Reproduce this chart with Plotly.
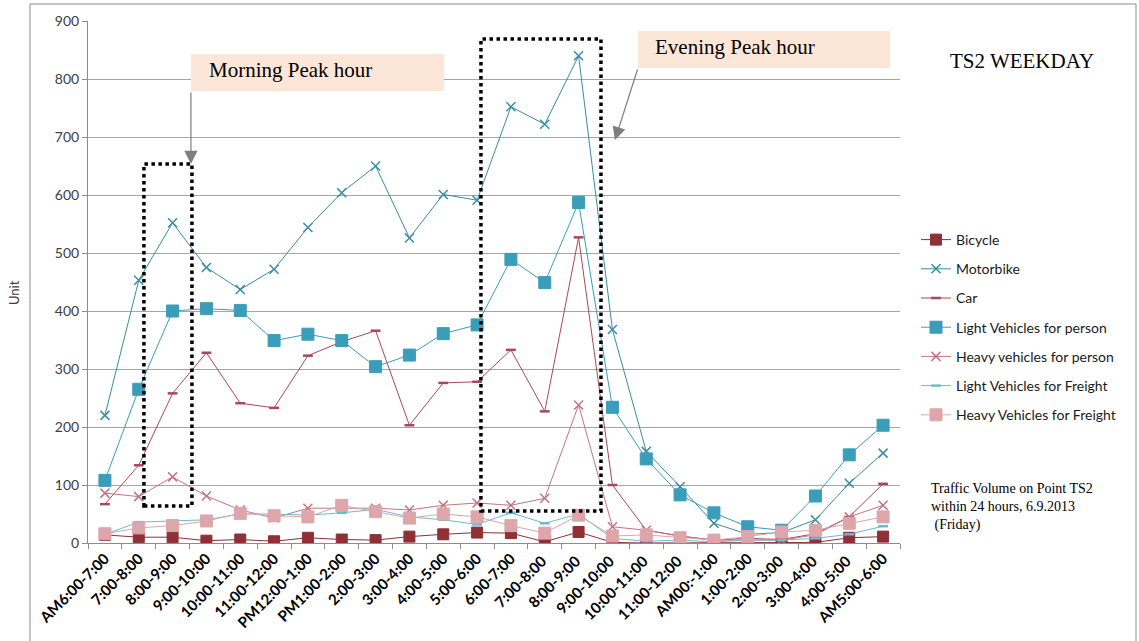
import plotly.graph_objects as go

categories = ["AM6:00-7:00", "7:00-8:00", "8:00-9:00", "9:00-10:00", "10:00-11:00",
              "11:00-12:00", "PM12:00-1:00", "PM1:00-2:00", "2:00-3:00", "3:00-4:00",
              "4:00-5:00", "5:00-6:00", "6:00-7:00", "7:00-8:00 ", "8:00-9:00 ",
              "9:00-10:00 ", "10:00-11:00 ", "11:00-12:00 ", "AM00:-1:00", "1:00-2:00",
              "2:00-3:00 ", "3:00-4:00 ", "4:00-5:00 ", "AM5:00-6:00"]

bicycle = [14, 10, 10, 4, 6, 3, 9, 6, 5, 11, 15, 18, 17, 2, 19, 1, 0, 0, 0, 1, 1, 1, 9, 11]
motorbike = [220, 453, 552, 475, 437, 472, 544, 604, 650, 526, 601, 591,
             752, 722, 840, 368, 158, 97, 34, 15, 18, 40, 103, 155]
car = [67, 134, 258, 328, 241, 233, 323, 347, 366, 203, 276, 278,
       333, 227, 527, 100, 22, 12, 5, 8, 6, 16, 45, 102]
light_person = [108, 265, 400, 404, 401, 349, 360, 349, 304, 324, 361, 376,
                489, 449, 587, 234, 145, 83, 52, 28, 22, 81, 152, 203]
heavy_person = [86, 80, 114, 81, 57, 43, 60, 60, 60, 57, 65, 69,
                65, 77, 238, 28, 22, 12, 5, 5, 5, 14, 45, 65]
light_freight = [15, 36, 38, 40, 50, 50, 48, 52, 58, 45, 40, 32,
                 52, 34, 50, 8, 3, 5, 2, 5, 5, 8, 15, 29]
heavy_freight = [16, 26, 30, 38, 51, 47, 45, 65, 54, 43, 50, 45,
                 30, 17, 48, 12, 14, 9, 5, 11, 19, 22, 34, 45]

series = [
    ("Bicycle", bicycle, "#8E3036", "square", 11, "#8E3036", 1),
    ("Motorbike", motorbike, "#3A8CA2", "x-thin-open", 9, "#3A8CA2", 1.5),
    ("Car", car, "#A8485A", "line-ew-open", 7, "#A8485A", 2.5),
    ("Light Vehicles for person", light_person, "#3A9DBA", "square", 12, "#3A9DBA", 1),
    ("Heavy vehicles for person", heavy_person, "#C47482", "x-thin-open", 9, "#C47482", 1.5),
    ("Light Vehicles for Freight", light_freight, "#6DBACE", "line-ew-open", 7, "#6DBACE", 2.5),
    ("Heavy Vehicles for Freight", heavy_freight, "#DCA6AA", "square", 12, "#DCA6AA", 1),
]

fig = go.Figure()
for name, vals, color, sym, size, mcol, mlw in series:
    fig.add_trace(go.Scatter(
        x=categories, y=vals, name=name, mode="lines+markers",
        legendgroup=name,
        line=dict(color=color, width=1),
        marker=dict(symbol=sym, size=size, color=mcol, line=dict(color=mcol, width=mlw)),
    ))

# pixel helpers for layout decorations (plot area 88..900 x, 21..543 y)
def px_x(p):
    return (p - 105) / 33.83

def px_y(p):
    return (543 - p) / 0.58

def pap_x(p):
    return (p - 88) / 812

def pap_y(p):
    return (543 - p) / 522

shapes = [
    dict(type="rect", xref="paper", yref="paper", x0=pap_x(30), x1=pap_x(1136),
         y0=pap_y(700), y1=pap_y(4), line=dict(color="#8c8c8c", width=1), layer="below"),
    dict(type="rect", xref="x", yref="y", x0=px_x(144), x1=px_x(192), y0=px_y(506), y1=px_y(164),
         line=dict(color="black", width=3.5, dash="dot")),
    dict(type="rect", xref="x", yref="y", x0=px_x(481), x1=px_x(601), y0=px_y(511), y1=px_y(39),
         line=dict(color="black", width=3.5, dash="dot")),
    dict(type="rect", xref="x", yref="y", x0=px_x(191), x1=px_x(444), y0=px_y(91), y1=px_y(54),
         fillcolor="#FCE6D8", line=dict(width=0)),
    dict(type="rect", xref="x", yref="y", x0=px_x(638), x1=px_x(890), y0=px_y(68), y1=px_y(31),
         fillcolor="#FCE6D8", line=dict(width=0)),
]

serif = "Liberation Serif"
annotations = [
    dict(text="Morning Peak hour", x=px_x(207), y=px_y(70), xref="x", yref="y",
         xanchor="left", yanchor="middle", showarrow=False,
         font=dict(family=serif, size=21, color="black")),
    dict(text="Evening Peak hour", x=px_x(653), y=px_y(47), xref="x", yref="y",
         xanchor="left", yanchor="middle", showarrow=False,
         font=dict(family=serif, size=21, color="black")),
    dict(text="", x=px_x(191), y=px_y(164), ax=px_x(191), ay=px_y(91),
         xref="x", yref="y", axref="x", ayref="y", showarrow=True,
         arrowhead=2, arrowsize=2.2, arrowwidth=1.2, arrowcolor="#7f7f7f"),
    dict(text="", x=px_x(615), y=px_y(140), ax=px_x(638), ay=px_y(68),
         xref="x", yref="y", axref="x", ayref="y", showarrow=True,
         arrowhead=2, arrowsize=2.2, arrowwidth=1.2, arrowcolor="#7f7f7f"),
    dict(text="TS2 WEEKDAY", x=pap_x(1022), y=pap_y(61), xref="paper", yref="paper",
         xanchor="center", yanchor="middle", showarrow=False,
         font=dict(family=serif, size=21, color="black")),
    dict(text="Traffic Volume on Point TS2<br>within 24 hours, 6.9.2013<br> (Friday)",
         x=pap_x(929), y=pap_y(479), xref="paper", yref="paper",
         xanchor="left", yanchor="top", align="left", showarrow=False,
         font=dict(family=serif, size=14, color="black")),
    dict(text="Unit", x=pap_x(14), y=pap_y(293), xref="paper", yref="paper",
         xanchor="center", yanchor="middle", textangle=-90, showarrow=False,
         font=dict(family="Lato", size=13, color="#404040")),
]

fig.update_layout(
    width=1139, height=641,
    margin=dict(l=88, r=239, t=21, b=98, autoexpand=False),
    paper_bgcolor="white", plot_bgcolor="white",
    showlegend=True,
    legend=dict(x=pap_x(916), y=pap_y(224), xanchor="left", yanchor="top",
                traceorder="grouped", tracegroupgap=8,
                font=dict(family="Lato", size=14, color="#1a1a1a"),
                bgcolor="rgba(0,0,0,0)", itemwidth=30),
    shapes=shapes, annotations=annotations,
    xaxis=dict(type="category", range=[-0.5, 23.5], tickangle=-45, automargin=False,
               tickson="boundaries", ticks="outside", ticklen=5, tickcolor="#8c8c8c",
               showline=True, linecolor="#8c8c8c", linewidth=1, showgrid=False,
               tickfont=dict(family="Lato", size=15, color="black", weight="bold")),
    yaxis=dict(range=[0, 900], dtick=100, ticks="outside", ticklen=5, tickcolor="#8c8c8c",
               showline=True, linecolor="#8c8c8c", linewidth=1, automargin=False,
               showgrid=True, gridcolor="#a6a6a6", gridwidth=1, zeroline=False,
               tickfont=dict(family="Lato", size=14, color="#404040")),
)

fig.write_html("out.html", config={"displayModeBar": False},
               post_script="document.body.style.margin='0';document.body.style.padding='0';")
